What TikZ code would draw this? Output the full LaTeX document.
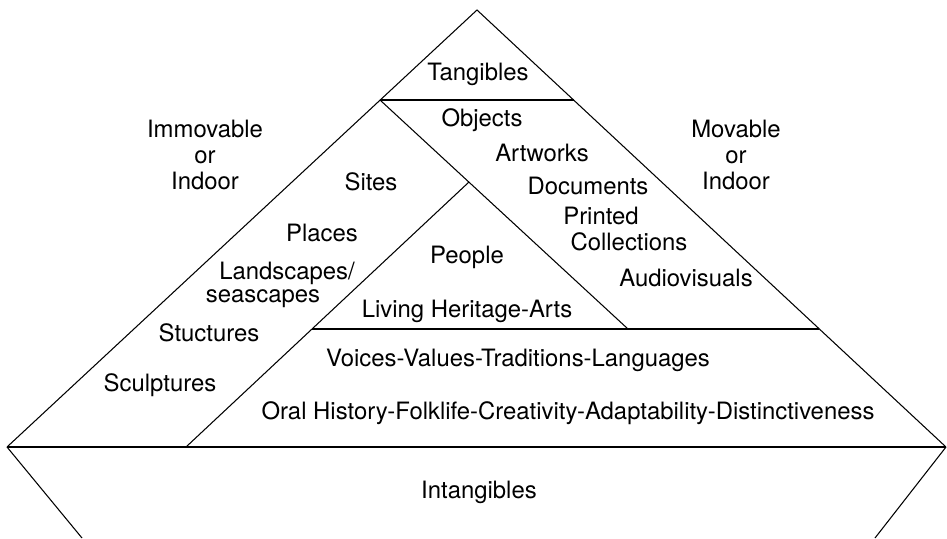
\documentclass[tikz,border=0pt]{standalone}
\usepackage{fontspec}
\setmainfont{TeX Gyre Heros}
\usetikzlibrary{positioning}

\begin{document}
\begin{tikzpicture}[x=0.02cm, y=-0.02cm, line width=0.6pt,
  lbl/.style={font=\fontsize{13.6}{14.8}\selectfont, inner sep=0pt, align=center}]
\useasboundingbox (0,0) rectangle (947,538);
% corners of the pyramid
\coordinate (top) at (477,10);
\coordinate (bl) at (7,447);
\coordinate (br) at (946,447);
\coordinate (tl) at (380,100);
\coordinate (tr) at (574,100);
\coordinate (ia) at (469,182);
\coordinate (ir) at (628,329);
\coordinate (ib) at (186,447);
\coordinate (ml) at (312,329);
\coordinate (mr) at (819,329);
\coordinate (lb) at (82,538);
\coordinate (rb) at (875,538);

\draw (bl) -- (top) -- (br);
\draw[line width=0.8pt] (bl) -- (br);
\draw (tl) -- (tr);
\draw (tl) -- (ir);
\draw (ib) -- (ia);
\draw (ml) -- (mr);
\draw (bl) -- (lb);
\draw (br) -- (rb);

% labels
\node[lbl] (tang) at (478,74) {Tangibles};
\node[lbl] (imm) at (205,155) {Immovable\\or\\Indoor};
\node[lbl] (mov) at (736,155) {Movable\\or\\Indoor};
\node[lbl] (obj) at (482,120) {Objects};
\node[lbl] (art) at (542,153) {Artworks};
\node[lbl] (doc) at (588,186) {Documents};
\node[lbl] (prt) at (601,216) {Printed};
\node[lbl] (coll) at (629,242) {Collections};
\node[lbl] (av) at (686,278) {Audiovisuals};
\node[lbl] (sites) at (371,182) {Sites};
\node[lbl] (plc) at (322,233) {Places};
\node[lbl] (land) at (287,273) {Landscapes/};
\node[lbl] (sea) at (263,299) {seascapes};
\node[lbl] (stu) at (209,333) {Stuctures};
\node[lbl] (scu) at (160,385) {Sculptures};
\node[lbl] (ppl) at (467,257) {People};
\node[lbl] (liv) at (467,311) {Living Heritage-Arts};
\node[lbl] (voi) at (518,360) {Voices-Values-Traditions-Languages};
\node[lbl] (oral) at (568,413) {Oral History-Folklife-Creativity-Adaptability-Distinctiveness};
\node[lbl] (intang) at (479,492) {Intangibles};
\end{tikzpicture}
\end{document}
